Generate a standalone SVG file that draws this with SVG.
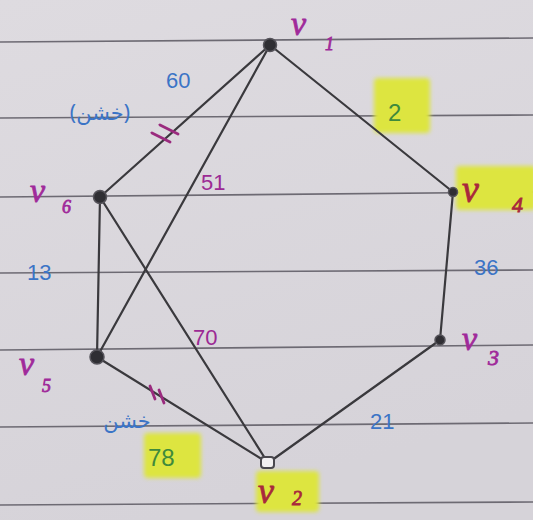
<svg xmlns="http://www.w3.org/2000/svg" width="533" height="520" viewBox="0 0 533 520">
<defs>
<linearGradient id="paper" x1="0" y1="0" x2="0.3" y2="1">
<stop offset="0" stop-color="#dedbe0"/>
<stop offset="1" stop-color="#d6d3d9"/>
</linearGradient>
<filter id="soft" x="-20%" y="-20%" width="140%" height="140%"><feGaussianBlur stdDeviation="2"/></filter>
</defs>
<style>
.rule{stroke:#6d6a73;stroke-width:1.6;fill:none}
.edge{stroke:#3a393d;stroke-width:2.2;fill:none;stroke-linecap:round}
.tick{stroke:#9a2a7e;stroke-width:2.8;stroke-linecap:round}
.node{fill:#2f2e33;stroke:#55535a;stroke-width:1.5}
.hl{fill:#dde53f;filter:url(#soft)}
.vl{font-family:"Liberation Serif",serif;font-style:italic;fill:#a02a9a;stroke:#a02a9a;stroke-width:0.8}
.vr{font-family:"Liberation Serif",serif;font-style:italic;fill:#a8283c;stroke:#a8283c;stroke-width:0.8}
.blue{font-family:"Liberation Sans",sans-serif;fill:#3b74c6;font-size:22px}
.pur{font-family:"Liberation Sans",sans-serif;fill:#9c2a94;font-size:22px}
.grn{font-family:"Liberation Sans",sans-serif;fill:#3f8a3c;font-size:24px}
.ar{font-family:"Noto Sans","DejaVu Sans",sans-serif;fill:#3b74c6;font-size:21px}
</style>
<rect width="533" height="520" fill="url(#paper)"/>
<g id="rules">
<line class="rule" x1="0" y1="42" x2="533" y2="38"/>
<line class="rule" x1="0" y1="118" x2="533" y2="115"/>
<line class="rule" x1="0" y1="197" x2="533" y2="192"/>
<line class="rule" x1="0" y1="273" x2="533" y2="270"/>
<line class="rule" x1="0" y1="350" x2="533" y2="345"/>
<line class="rule" x1="0" y1="427" x2="533" y2="423"/>
<line class="rule" x1="0" y1="505" x2="533" y2="502"/>
</g>
<g id="highlights">
<rect class="hl" x="374" y="78" width="56" height="55" rx="4"/>
<rect class="hl" x="456" y="166" width="80" height="44" rx="4"/>
<rect class="hl" x="144" y="433" width="57" height="45" rx="4"/>
<rect class="hl" x="256" y="471" width="63" height="41" rx="4"/>
</g>
<g id="connectors">
<line class="edge" x1="270" y1="45" x2="100" y2="197"/>
<line class="edge" x1="270" y1="45" x2="97" y2="357"/>
<line class="edge" x1="270" y1="45" x2="453" y2="192"/>
<line class="edge" x1="453" y1="192" x2="440" y2="340"/>
<line class="edge" x1="440" y1="340" x2="268" y2="463"/>
<line class="edge" x1="97" y1="357" x2="268" y2="463"/>
<line class="edge" x1="100" y1="197" x2="97" y2="357"/>
<line class="edge" x1="100" y1="197" x2="268" y2="463"/>
<line class="tick" x1="160" y1="125" x2="178" y2="134"/>
<line class="tick" x1="152" y1="133" x2="170" y2="142"/>
<line class="tick" x1="155" y1="399" x2="150" y2="386"/>
<line class="tick" x1="164" y1="403" x2="159" y2="390"/>
<text class="blue" x="166" y="88">60</text>
<text class="ar" x="100" y="120" text-anchor="middle">(خشن)</text>
<text class="grn" x="388" y="121">2</text>
<text class="pur" x="201" y="190">51</text>
<text class="blue" x="27" y="280">13</text>
<text class="blue" x="474" y="275">36</text>
<text class="pur" x="193" y="345">70</text>
<text class="blue" x="370" y="429">21</text>
<text class="ar" x="127" y="428" text-anchor="middle">خشن</text>
<text class="grn" x="148" y="466">78</text>
</g>
<g id="v1">
<circle class="node" cx="270" cy="45" r="6.5"/>
<text class="vl" x="291" y="35" font-size="34">v</text>
<text class="vl" x="325" y="50" font-size="18">1</text>
</g>
<g id="v6">
<circle class="node" cx="100" cy="197" r="6.5"/>
<text class="vl" x="30" y="202" font-size="34">v</text>
<text class="vl" x="62" y="213" font-size="18">6</text>
</g>
<g id="v4">
<circle class="node" cx="453" cy="192" r="4.5"/>
<text class="vr" x="462" y="202" font-size="38">v</text>
<text class="vr" x="512" y="212" font-size="22">4</text>
</g>
<g id="v3">
<circle class="node" cx="440" cy="340" r="5"/>
<text class="vl" x="462" y="350" font-size="34">v</text>
<text class="vl" x="488" y="365" font-size="22">3</text>
</g>
<g id="v5">
<circle class="node" cx="97" cy="357" r="7"/>
<text class="vl" x="19" y="375" font-size="34">v</text>
<text class="vl" x="42" y="392" font-size="18">5</text>
</g>
<g id="v2">
<rect x="261" y="457" width="13" height="11" rx="3" fill="#f2f0f2" stroke="#4a484e" stroke-width="2"/>
<text class="vr" x="258" y="503" font-size="36">v</text>
<text class="vr" x="292" y="505" font-size="20">2</text>
</g>
</svg>
